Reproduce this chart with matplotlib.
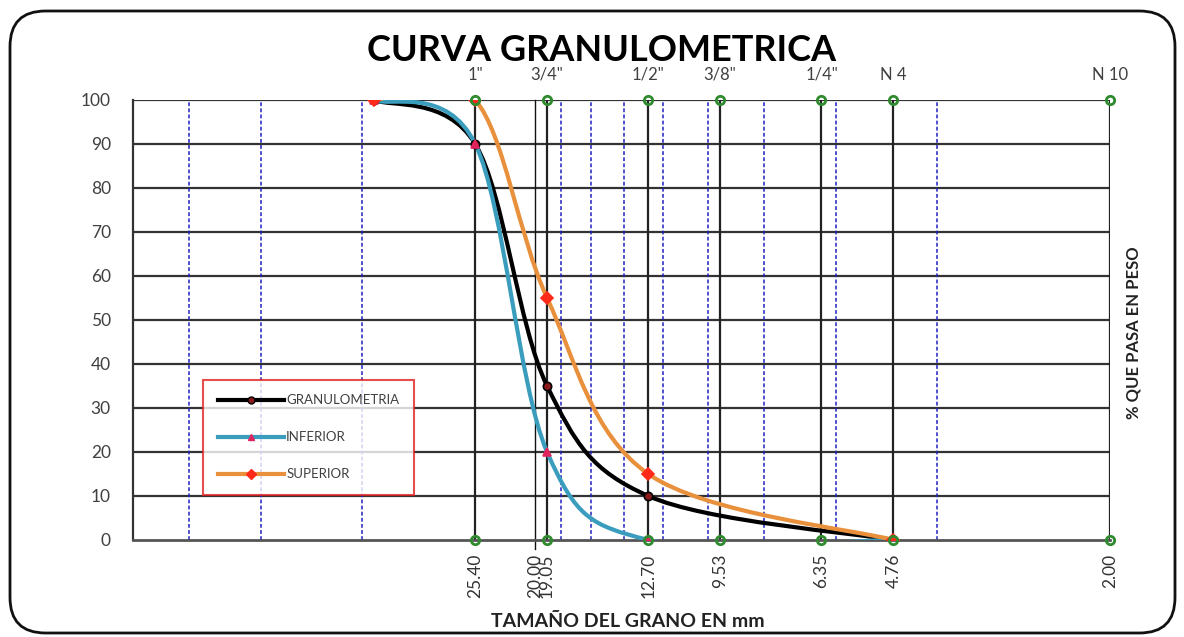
import numpy as np
import matplotlib
matplotlib.use("Agg")
import matplotlib.pyplot as plt
from matplotlib.path import Path
from matplotlib.patches import PathPatch, FancyBboxPatch
from matplotlib.lines import Line2D
from matplotlib.ticker import NullLocator, FixedLocator, FixedFormatter
import matplotlib.transforms as mtransforms

plt.rcParams['font.family'] = ['Lato', 'DejaVu Sans']

# sieve openings (mm) and names
sieve_mm = [25.40, 19.05, 12.70, 9.53, 6.35, 4.76, 2.00]
sieve_names = ['1"', '3/4"', '1/2"', '3/8"', '1/4"', 'N 4', 'N 10']
extra_mm = [20.00]
dashed_mm = [80, 60, 40, 18, 16, 14, 12, 10, 8, 6, 4]

# curves: size (mm) vs % passing
gran_x = [38.1, 25.4, 19.05, 12.7, 4.76]
gran_y = [100, 90, 35, 10, 0]
inf_x = [38.1, 25.4, 19.05, 12.7, 4.76]
inf_y = [100, 90, 20, 0, 0]
sup_x = [38.1, 25.4, 19.05, 12.7, 4.76]
sup_y = [100, 100, 55, 15, 0]


def smooth_path(xs, ys):
    # Excel-like smoothed line: cubic bezier segments computed in log-x space
    lx = np.log10(xs)
    ly = np.asarray(ys, dtype=float)
    pts = np.column_stack([lx, ly])
    n = len(pts)
    verts = [pts[0]]
    codes = [Path.MOVETO]
    for i in range(n - 1):
        p0 = pts[i - 1] if i > 0 else pts[i]
        p1 = pts[i]
        p2 = pts[i + 1]
        p3 = pts[i + 2] if i + 2 < n else pts[i + 1]
        c1 = p1 + (p2 - p0) / 6
        c2 = p2 - (p3 - p1) / 6
        verts += [c1, c2, p2]
        codes += [Path.CURVE4] * 3
    verts = np.array(verts)
    verts[:, 0] = 10 ** verts[:, 0]
    return Path(verts, codes)


fig = plt.figure(figsize=(11.84, 6.37), dpi=100)
ax = fig.add_axes([133 / 1184, 1 - 540 / 637, (1110 - 133) / 1184, 440 / 637])

ax.set_xscale('log')
ax.set_xlim(100, 2.0)
ax.set_ylim(0, 100)

# grid
for yv in range(10, 101, 10):
    ax.axhline(yv, color='#333333', lw=1.6, zorder=1)
for xv in dashed_mm:
    ax.axvline(xv, color='#2020c0', lw=1.1, ls=(0, (2.5, 1.5)), zorder=1)
for xv in sieve_mm:
    ax.axvline(xv, color='#222222', lw=1.6, zorder=2)
ax.plot([20.0, 20.0], [-2, 100], color='#111111', lw=1.0, zorder=2, clip_on=False)

# curves
styles = [
    (gran_x, gran_y, 'GRANULOMETRIA', 'black', 'o', '#8b1a1a', 'black'),
    (inf_x, inf_y, 'INFERIOR', '#3b9dbd', '^', '#e0245e', '#e0245e'),
    (sup_x, sup_y, 'SUPERIOR', '#e8903c', 'D', '#ff2a1a', '#ff2a1a'),
]
handles = []
for xs, ys, lab, col, mk, mfc, mec in styles:
    ax.add_patch(PathPatch(smooth_path(xs, ys), fill=False, edgecolor=col,
                           lw=3, zorder=3, capstyle='round'))
    ax.plot(xs, ys, ls='none', marker=mk, ms=6, mfc=mfc, mec=mec, mew=1.2, zorder=4)
    handles.append(Line2D([], [], color=col, lw=3, marker=mk, ms=5, mfc=mfc, mec=mec))

# green hollow markers at sieve lines
ax.plot(sieve_mm, [100] * len(sieve_mm), ls='none', marker='o', ms=6, mfc='none',
        mec='#2e8b2e', mew=2, zorder=5, clip_on=False)
ax.plot(sieve_mm, [0] * len(sieve_mm), ls='none', marker='o', ms=6, mfc='none',
        mec='#2e8b2e', mew=2, zorder=5, clip_on=False)

# axes styling
for s in ['top', 'right']:
    ax.spines[s].set_visible(False)
ax.spines['left'].set_color('#333333')
ax.spines['left'].set_linewidth(1.6)
ax.spines['bottom'].set_color('#555555')
ax.spines['bottom'].set_linewidth(2)

ax.set_yticks(range(0, 101, 10))
ax.tick_params(axis='y', length=0, pad=16, labelsize=12.5, labelcolor='#404040')

bottom_ticks = sieve_mm + extra_mm
ax.xaxis.set_minor_locator(NullLocator())
ax.xaxis.set_major_locator(FixedLocator(bottom_ticks))
ax.xaxis.set_major_formatter(FixedFormatter(['%.2f' % v for v in bottom_ticks]))
ax.tick_params(axis='x', length=0, pad=10, labelsize=12.5, labelcolor='#333333',
               labelrotation=90)

# top sieve names
trans = mtransforms.blended_transform_factory(ax.transData, ax.transAxes)
for xv, nm in zip(sieve_mm, sieve_names):
    ax.text(xv, 1.057, nm, transform=trans, ha='center', va='center',
            fontsize=12, color='#404040')

leg = ax.legend(handles=[h for h in handles], labels=[s[2] for s in styles],
                loc='upper left', bbox_to_anchor=(0.0717, 0.364), frameon=True,
                fancybox=False, edgecolor='#e02020', fontsize=9.5,
                labelspacing=1.9, handlelength=5.0, handletextpad=0.2,
                borderpad=1.1, borderaxespad=0)
leg.get_frame().set_linewidth(1.5)
for t in leg.get_texts():
    t.set_color('#404040')
leg.set_zorder(6)

fig.text(0.508, 0.921, 'CURVA GRANULOMETRICA', ha='center', va='center',
         fontsize=26, fontweight='bold', color='black')
fig.text(0.530, 0.024, 'TAMAÑO DEL GRANO EN mm', ha='center', va='center',
         fontsize=14, fontweight='bold', color='#222222')
fig.text(0.957, 0.477, '% QUE PASA EN PESO', ha='center', va='center', rotation=90,
         fontsize=12, fontweight='bold', color='#222222')

# rounded outer frame
frame = FancyBboxPatch((10 / 1184, 4 / 637), 1165 / 1184, 622 / 637,
                       boxstyle='round,pad=0,rounding_size=0.03',
                       transform=fig.transFigure, fill=False, edgecolor='#111111',
                       lw=2, mutation_aspect=1184 / 637)
fig.patches.append(frame)

fig.savefig('out.png', dpi=100)
